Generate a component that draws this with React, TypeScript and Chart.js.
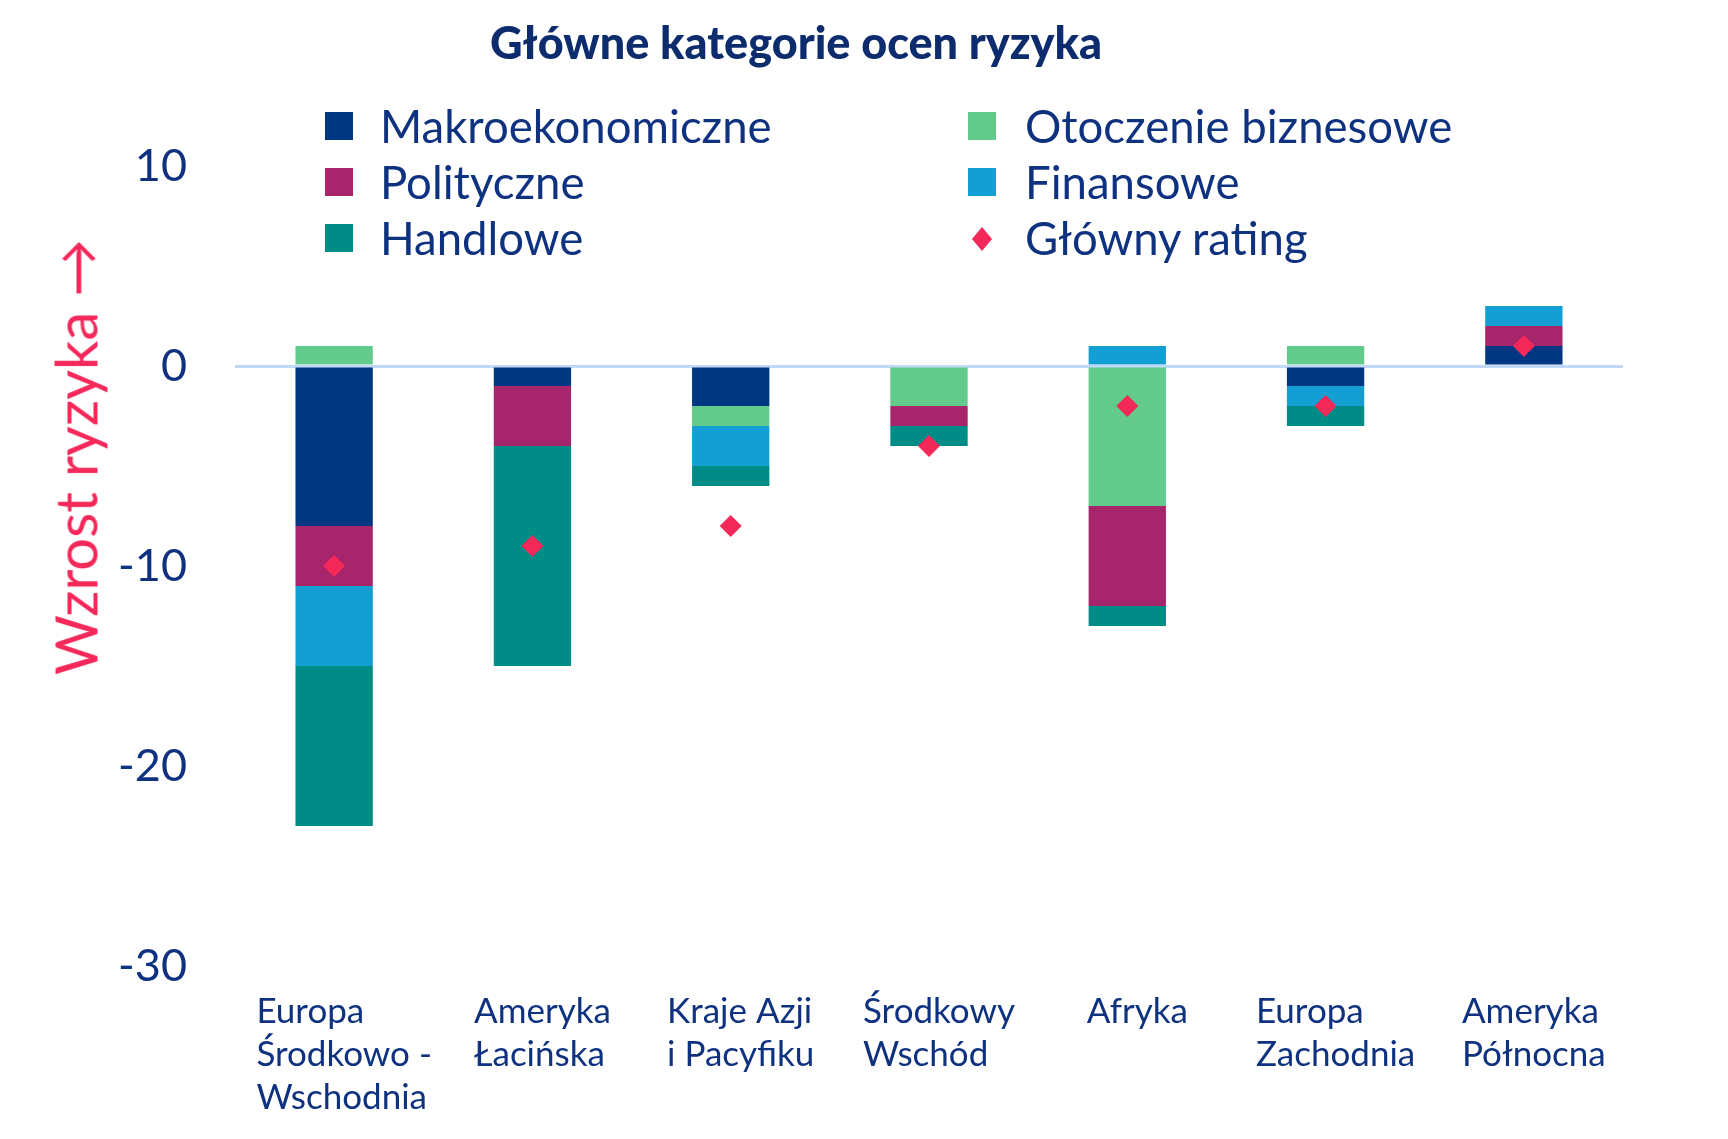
import React, { useEffect, useRef } from 'react';
import { Chart, registerables } from 'chart.js';

Chart.register(...registerables);

// Regions (multi-line axis labels)
const regions: string[][] = [
  ['Europa', 'Środkowo -', 'Wschodnia'],
  ['Ameryka', 'Łacińska'],
  ['Kraje Azji', 'i Pacyfiku'],
  ['Środkowy', 'Wschód'],
  ['Afryka'],
  ['Europa', 'Zachodnia'],
  ['Ameryka', 'Północna'],
];

// Change in risk assessment per category
const makroekonomiczne = [-8, -1, -2, 0, 0, -1, 1];
const otoczenieBiznesowe = [1, 0, -1, -2, -7, 1, 0];
const polityczne = [-3, -3, 0, -1, -5, 0, 1];
const finansowe = [-4, 0, -2, 0, 1, -1, 1];
const handlowe = [-8, -11, -1, -1, -1, -1, 0];
const glownyRating = [-10, -9, -8, -4, -2, -2, 1];

const yTickValues = [10, 0, -10, -20, -30];

const NAVY = '#003781';
const PLUM = '#A6256B';
const TEAL = '#008C86';
const GREEN = '#62CB8B';
const CYAN = '#139FD4';
const PINK = '#F5285A';
const TEXT = '#0E3280';
const FONT = 'Lato, "Open Sans", sans-serif';

const legendLeft = [
  { name: 'Makroekonomiczne', color: NAVY, kind: 'box' },
  { name: 'Polityczne', color: PLUM, kind: 'box' },
  { name: 'Handlowe', color: TEAL, kind: 'box' },
];
const legendRight = [
  { name: 'Otoczenie biznesowe', color: GREEN, kind: 'box' },
  { name: 'Finansowe', color: CYAN, kind: 'box' },
  { name: 'Główny rating', color: PINK, kind: 'diamond' },
];

// Draws the multi-line region names under each bar, lines left-aligned
const regionLabels = {
  id: 'regionLabels',
  afterDraw(chart: any) {
    const { ctx } = chart;
    const x = chart.scales.x;
    ctx.save();
    ctx.font = `35px ${FONT}`;
    ctx.fillStyle = TEXT;
    ctx.textAlign = 'left';
    ctx.textBaseline = 'alphabetic';
    regions.forEach((lines, i) => {
      const w = Math.max(...lines.map((l) => ctx.measureText(l).width));
      const left = x.getPixelForValue(i) + 10 - w / 2;
      lines.forEach((line, j) => {
        ctx.fillText(line, left, 1015 + j * 43);
      });
    });
    ctx.restore();
  },
};

function LegendColumn({ items, left, textLeft }: { items: any[]; left: number; textLeft: number }) {
  return (
    <>
      {items.map((it, i) => {
        const cy = 118 + i * 56;
        return (
          <React.Fragment key={it.name}>
            {it.kind === 'box' ? (
              <div
                style={{
                  position: 'absolute',
                  left,
                  top: cy - 14,
                  width: 28,
                  height: 28,
                  background: it.color,
                }}
              />
            ) : (
              <div
                style={{
                  position: 'absolute',
                  left: left + 4,
                  top: cy - 11,
                  width: 20,
                  height: 24,
                  background: it.color,
                  clipPath: 'polygon(50% 0, 100% 50%, 50% 100%, 0 50%)',
                }}
              />
            )}
            <div
              style={{
                position: 'absolute',
                left: textLeft,
                top: cy - 27,
                height: 54,
                lineHeight: '54px',
                fontFamily: FONT,
                fontSize: 45.5,
                color: TEXT,
                whiteSpace: 'nowrap',
              }}
            >
              {it.name}
            </div>
          </React.Fragment>
        );
      })}
    </>
  );
}

export default function App() {
  const canvasRef = useRef<HTMLCanvasElement | null>(null);

  useEffect(() => {
    if (!canvasRef.current) return;
    const barDs = (label: string, data: number[], color: string) => ({
      type: 'bar' as const,
      label,
      data,
      backgroundColor: color,
      borderWidth: 0,
      barPercentage: 0.39,
      categoryPercentage: 1,
      order: 1,
    });
    const chart = new Chart(canvasRef.current, {
      type: 'bar',
      data: {
        labels: regions.map((r) => r.join(' ')),
        datasets: [
          barDs('Makroekonomiczne', makroekonomiczne, NAVY),
          barDs('Otoczenie biznesowe', otoczenieBiznesowe, GREEN),
          barDs('Polityczne', polityczne, PLUM),
          barDs('Finansowe', finansowe, CYAN),
          barDs('Handlowe', handlowe, TEAL),
          {
            type: 'line' as const,
            label: 'Główny rating',
            data: glownyRating,
            showLine: false,
            pointStyle: 'rectRot',
            pointRadius: 11,
            pointBackgroundColor: PINK,
            pointBorderWidth: 0,
            borderColor: PINK,
            stack: 'rating',
            order: 0,
          } as any,
        ],
      },
      options: {
        animation: false,
        responsive: false,
        maintainAspectRatio: false,
        layout: { padding: { top: 158, right: 97, left: 0, bottom: 0 } },
        plugins: {
          legend: { display: false },
          tooltip: { enabled: false },
          title: { display: false },
        },
        scales: {
          x: {
            stacked: true,
            grid: { display: false, drawTicks: false },
            border: { display: false },
            ticks: { display: false },
            afterFit: (s: any) => {
              s.height = 165;
            },
          },
          y: {
            stacked: true,
            min: -30,
            max: 10,
            z: 1,
            border: { display: false },
            grid: {
              drawTicks: false,
              lineWidth: 3,
              color: (c: any) => (c.tick && c.tick.value === 0 ? '#C2D8F7' : 'rgba(0,0,0,0)'),
            },
            afterBuildTicks: (s: any) => {
              s.ticks = yTickValues.map((v) => ({ value: v }));
            },
            ticks: {
              padding: 48,
              color: TEXT,
              font: { family: FONT, size: 45 },
            },
            afterFit: (s: any) => {
              s.width = 227;
            },
          },
        },
      },
      plugins: [regionLabels],
    });
    return () => chart.destroy();
  }, []);

  return (
    <div style={{ position: 'relative', width: 1712, height: 1123, background: '#fff' }}>
      <canvas ref={canvasRef} width={1712} height={1123} style={{ position: 'absolute', left: 0, top: 0 }} />
      <div
        style={{
          position: 'absolute',
          left: 788,
          top: 34,
          transform: 'translate(-50%, -50%)',
          fontFamily: FONT,
          fontWeight: 900,
          fontSize: 45,
          color: '#0D2C6E',
          whiteSpace: 'nowrap',
        }}
      >
        Główne kategorie ocen ryzyka
      </div>
      <LegendColumn items={legendLeft} left={317} textLeft={372} />
      <LegendColumn items={legendRight} left={960} textLeft={1017} />
      <div
        style={{
          position: 'absolute',
          left: 67,
          top: 449,
          transform: 'translate(-50%, -50%) rotate(-90deg)',
          fontFamily: FONT,
          fontSize: 58,
          color: PINK,
          whiteSpace: 'nowrap',
        }}
      >
        Wzrost ryzyka →
      </div>
    </div>
  );
}
